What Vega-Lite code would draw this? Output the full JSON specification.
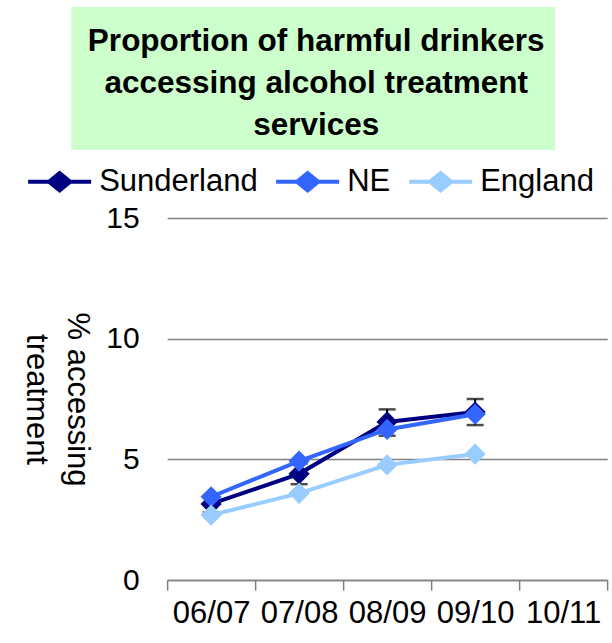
{
  "$schema": "https://vega.github.io/schema/vega-lite/v6.json",
  "background": "white",
  "padding": {"left": 20, "top": 7, "right": 0, "bottom": 0},
  "config": {"font": "Liberation Sans", "view": {"stroke": null}},
  "spacing": 0,
  "bounds": "full",
  "center": true,
  "resolve": {"legend": {"color": "independent"}},
  "vconcat": [
    {
      "width": 484,
      "height": 143,
      "view": {"fill": "#CCFFCC", "stroke": null},
      "data": {"values": [{"t": "Proportion of harmful drinkers|accessing alcohol treatment|services", "k": "a"}]},
      "mark": {"type": "text", "lineBreak": "|", "font": "Liberation Sans", "fontWeight": "bold", "fontSize": 31.5, "lineHeight": 42, "baseline": "middle", "align": "center", "dy": -37, "dx": 3, "color": "black"},
      "encoding": {
        "text": {"field": "t"},
        "y": {"field": "k", "type": "nominal", "axis": {"orient": "right", "labels": false, "title": null, "domain": false, "grid": false, "ticks": true, "tickSize": 148, "tickColor": "transparent"}}
      }
    },
    {
      "width": 440,
      "height": 362,
      "data": {
        "values": [
          {"year": "06/07", "series": "Sunderland", "v": 3.15, "lo": 2.8, "hi": 3.5},
          {"year": "07/08", "series": "Sunderland", "v": 4.4, "lo": 3.97, "hi": 4.83},
          {"year": "08/09", "series": "Sunderland", "v": 6.55, "lo": 5.98, "hi": 7.07},
          {"year": "09/10", "series": "Sunderland", "v": 6.96, "lo": 6.42, "hi": 7.5},
          {"year": "06/07", "series": "NE", "v": 3.45},
          {"year": "07/08", "series": "NE", "v": 4.93},
          {"year": "08/09", "series": "NE", "v": 6.24},
          {"year": "09/10", "series": "NE", "v": 6.87},
          {"year": "06/07", "series": "England", "v": 2.69},
          {"year": "07/08", "series": "England", "v": 3.59},
          {"year": "08/09", "series": "England", "v": 4.77},
          {"year": "09/10", "series": "England", "v": 5.22}
        ]
      },
      "encoding": {
        "x": {
          "field": "year", "type": "nominal",
          "scale": {"domain": ["06/07", "07/08", "08/09", "09/10", "10/11"], "paddingInner": 0, "paddingOuter": 0},
          "axis": {"title": null, "labelAngle": 0, "labelFontSize": 31, "labelColor": "black", "labelPadding": 8, "tickBand": "extent", "tickSize": 10, "tickColor": "#808080", "tickWidth": 1.5, "domainColor": "#808080", "domainWidth": 1.5, "labelOverlap": false, "grid": false}
        },
        "y": {
          "type": "quantitative",
          "scale": {"domain": [0, 15], "nice": false},
          "axis": {"values": [0, 5, 10, 15], "title": ["% accessing", "treatment"], "titleAngle": 90, "titleFontSize": 31, "titleFontWeight": "normal", "titleColor": "black", "titleLineHeight": 41, "titlePadding": 4, "labelFontSize": 30, "labelColor": "black", "labelPadding": 28, "ticks": false, "domain": false, "grid": true, "gridColor": "#808080", "gridWidth": 1.5}
        }
      },
      "layer": [
        {
          "transform": [{"filter": "datum.lo != null"}],
          "mark": {"type": "rule", "color": "black", "strokeWidth": 2},
          "encoding": {"y": {"field": "lo", "type": "quantitative"}, "y2": {"field": "hi"}}
        },
        {
          "transform": [{"filter": "datum.lo != null"}],
          "mark": {"type": "tick", "color": "black", "size": 17, "thickness": 2.5, "orient": "horizontal"},
          "encoding": {"y": {"field": "lo", "type": "quantitative"}}
        },
        {
          "transform": [{"filter": "datum.lo != null"}],
          "mark": {"type": "tick", "color": "black", "size": 17, "thickness": 2.5, "orient": "horizontal"},
          "encoding": {"y": {"field": "hi", "type": "quantitative"}}
        },
        {
          "mark": {"type": "line", "strokeWidth": 4},
          "encoding": {
            "y": {"field": "v", "type": "quantitative"},
            "color": {
              "field": "series", "type": "nominal",
              "scale": {"domain": ["Sunderland", "NE", "England"], "range": ["#000080", "#3366FF", "#99CCFF"]},
              "legend": {
                "title": null, "orient": "none", "legendX": -139, "legendY": -68, "direction": "horizontal", "columns": 3,
                "labelFontSize": 31, "labelColor": "black", "labelOffset": 8, "columnPadding": 18, "padding": 0,
                "symbolType": "M-1,-0.065L-0.36,-0.065L0,-0.36L0.36,-0.065L1,-0.065L1,0.065L0.36,0.065L0,0.36L-0.36,0.065L-1,0.065Z",
                "symbolSize": 3969, "symbolStrokeWidth": 0, "symbolOpacity": 1,
                "encode": {"symbols": {"update": {"fill": {"scale": "color", "field": "value"}, "stroke": {"value": "transparent"}}}}
              }
            }
          }
        },
        {
          "mark": {"type": "point", "shape": "diamond", "filled": true, "size": 450, "opacity": 1},
          "encoding": {
            "y": {"field": "v", "type": "quantitative"},
            "color": {"field": "series", "type": "nominal"}
          }
        }
      ]
    }
  ]
}
